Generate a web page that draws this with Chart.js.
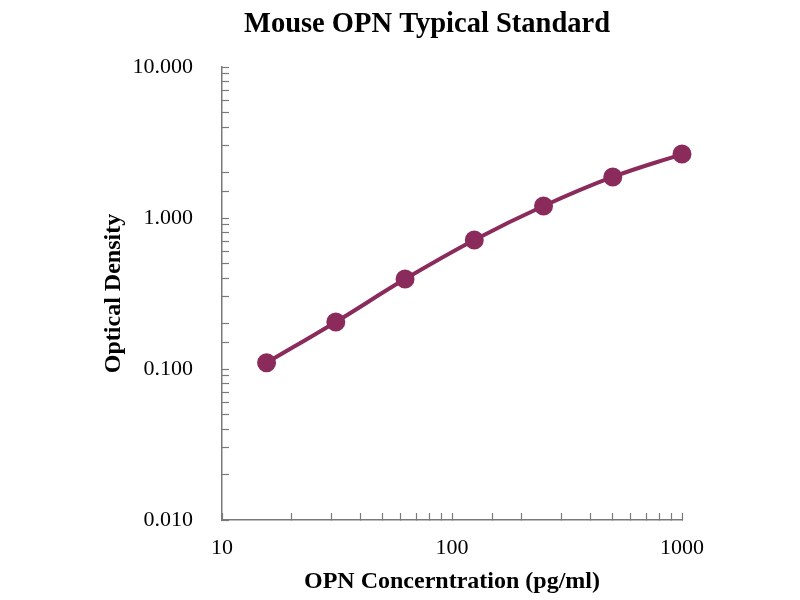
<!DOCTYPE html>
<html>
<head>
<meta charset="utf-8">
<script src="https://cdn.jsdelivr.net/npm/chart.js@4"></script>
<style>
html,body{margin:0;padding:0;background:#fff;overflow:hidden;width:800px;height:600px;}
</style>
</head>
<body>
<canvas id="c" width="800" height="600"></canvas>
<script>
const titleText = "Mouse OPN Typical Standard";
const xAxisTitle = "OPN Concerntration (pg/ml)";
const yAxisTitle = "Optical Density";
const concentrations = [15.625, 31.25, 62.5, 125, 250, 500, 1000];
const opticalDensity = [0.110, 0.205, 0.394, 0.715, 1.20, 1.87, 2.65];
const xRange = [10, 1000];
const yRange = [0.01, 10];

const lineColor = '#8a2b5c';
const axisColor = '#7a7a7a';
const serif = "'Liberation Serif', 'Times New Roman', serif";

function isPow10(v){
  const l = Math.log10(v);
  return Math.abs(l - Math.round(l)) < 1e-9;
}

// centre the chart title over a slightly right-shifted span, as in the reference
const titleShift = {
  id: 'titleShift',
  afterLayout(chart){
    const t = chart.titleBlock;
    if (t) { t.left += 82; }
  }
};

new Chart(document.getElementById('c'), {
  type: 'line',
  data: {
    datasets: [{
      data: concentrations.map((x, i) => ({x: x, y: opticalDensity[i]})),
      borderColor: lineColor,
      backgroundColor: lineColor,
      borderWidth: 4,
      pointRadius: 7.5,
      pointHoverRadius: 7.5,
      pointBackgroundColor: lineColor,
      pointBorderColor: lineColor,
      tension: 0.4,
      fill: false,
      clip: false
    }]
  },
  plugins: [titleShift],
  options: {
    responsive: false,
    animation: false,
    devicePixelRatio: 1,
    layout: { padding: { left: 90, right: 118, top: 0, bottom: 0 } },
    plugins: {
      legend: { display: false },
      tooltip: { enabled: false },
      title: {
        display: true,
        text: titleText,
        color: '#000',
        font: { family: serif, size: 28.5, weight: 'bold' },
        padding: { top: 7.5, bottom: 25.3 }
      }
    },
    scales: {
      x: {
        type: 'logarithmic',
        min: xRange[0],
        max: xRange[1],
        border: { display: true, color: axisColor, width: 1.5 },
        grid: { drawOnChartArea: false, drawTicks: true, tickLength: -7, color: axisColor, tickColor: axisColor, tickWidth: 1.2 },
        ticks: {
          autoSkip: false,
          maxRotation: 0,
          padding: 22,
          color: '#000',
          font: { family: serif, size: 22 },
          callback: function(v){ return isPow10(v) ? String(Math.round(v)) : ''; }
        },
        title: {
          display: true,
          text: xAxisTitle,
          color: '#000',
          font: { family: serif, size: 24, weight: 'bold' },
          padding: { top: 0, bottom: 4 }
        },
        afterFit: function(scale){ scale.height = 80; }
      },
      y: {
        type: 'logarithmic',
        min: yRange[0],
        max: yRange[1],
        border: { display: true, color: axisColor, width: 1.5 },
        grid: { drawOnChartArea: false, drawTicks: true, tickLength: -7, color: axisColor, tickColor: axisColor, tickWidth: 1.2 },
        ticks: {
          autoSkip: false,
          padding: 36,
          color: '#000',
          font: { family: serif, size: 22 },
          callback: function(v){ return isPow10(v) ? Number(v).toFixed(3) : ''; }
        },
        title: {
          display: true,
          text: yAxisTitle,
          color: '#000',
          font: { family: serif, size: 24, weight: 'bold' },
          padding: { top: 9, bottom: 0 }
        },
        afterFit: function(scale){ scale.width = 132; }
      }
    }
  }
});
</script>
</body>
</html>
